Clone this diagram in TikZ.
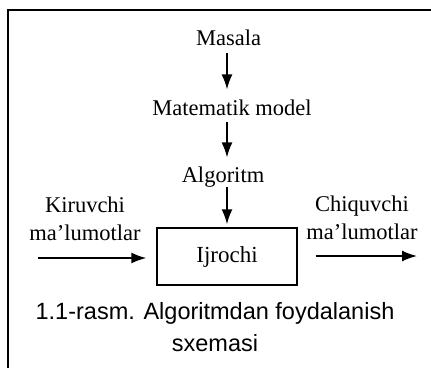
\documentclass[tikz,border=0pt]{standalone}
\usepackage{fontspec}
\setmainfont{Liberation Serif}
\newfontfamily\capfont{Liberation Sans}
\usetikzlibrary{arrows.meta}
\begin{document}
\begin{tikzpicture}[x=1pt,y=-1pt,
  lbl/.style={inner sep=0pt,outer sep=0pt,font=\fontsize{22.5}{28.5}\selectfont,align=center},
  captext/.style={inner sep=0pt,outer sep=0pt,font=\capfont\fontsize{23.5}{32}\selectfont,align=center},
  arr/.style={line width=1.6pt,-{Latex[length=15pt,width=11pt]}},
  frame/.style={line width=2pt},
  boxstyle/.style={draw,line width=1.4pt,minimum width=140pt,minimum height=57pt,inner sep=0pt,
    font=\fontsize{23}{28}\selectfont}]
  \useasboundingbox (0,0) rectangle (431,368);
  % frame: top and left rules
  \coordinate (ftl) at (8,10);
  \coordinate (ftr) at (431,10);
  \coordinate (fbl) at (8,368);
  \draw[frame] (ftr) -- (ftl) -- (fbl);

  % main column
  \node[lbl,anchor=base] (masala) at (228.5,45) {Masala};
  \node[lbl,anchor=base] (model) at (232,115) {Matematik model};
  \node[lbl,anchor=base] (algo) at (223,182) {Algoritm};
  \node[boxstyle] (box) at (227,256.5) {Ijrochi};

  \draw[arr,shorten <=8pt,shorten >=10pt] (masala.south -| box.north) -- (model.north -| box.north);
  \draw[arr,shorten <=7pt,shorten >=9pt] (model.south -| box.north) -- (algo.north -| box.north);
  \draw[arr,shorten <=0pt,shorten >=3pt] (algo.south -| box.north) -- (box.north);

  % input and output
  \node[lbl,anchor=south] (kir) at (85,241) {Kiruvchi\\ma'lumotlar};
  \node[lbl,anchor=south] (chiq) at (362,240) {Chiquvchi\\ma'lumotlar};
  \coordinate (inp) at (38,258);
  \coordinate (outp) at (417,256);
  \draw[arr,shorten >=10pt] (inp) -- (inp -| box.west);
  \draw[arr,shorten <=18pt] (box.east |- outp) -- (outp);

  % caption
  \node[captext,anchor=south] (caption) at (215,352) {1.1-rasm. Algoritmdan foydalanish\\sxemasi};
\end{tikzpicture}
\end{document}
